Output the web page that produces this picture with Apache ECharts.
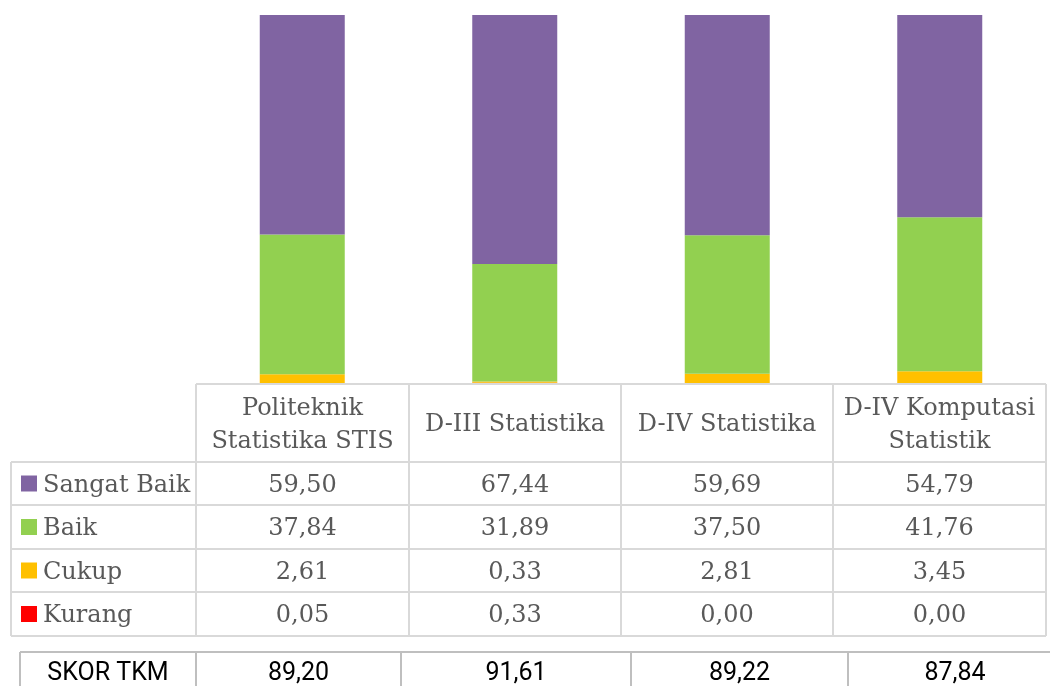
<!DOCTYPE html>
<html>
<head>
<meta charset="utf-8">
<script src="https://cdn.jsdelivr.net/npm/echarts@6/dist/echarts.min.js"></script>
<style>
  html, body { margin: 0; padding: 0; background: #fff; }
  #chart { width: 1050px; height: 686px; }
</style>
</head>
<body>
<div id="chart"></div>
<script>
var categories = ['Politeknik\nStatistika STIS', 'D-III Statistika', 'D-IV Statistika', 'D-IV Komputasi\nStatistik'];
var seriesNames = ['Sangat Baik', 'Baik', 'Cukup', 'Kurang'];
var sangatBaik = [59.50, 67.44, 59.69, 54.79];
var baik = [37.84, 31.89, 37.50, 41.76];
var cukup = [2.61, 0.33, 2.81, 3.45];
var kurang = [0.05, 0.33, 0.00, 0.00];
var skorTkm = [89.20, 91.61, 89.22, 87.84];
var colors = ['#8064a2', '#92d050', '#ffc000', '#ff0000'];

var rows = [sangatBaik, baik, cukup, kurang];
var chart = echarts.init(document.getElementById('chart'));

function fmt(v) {
  return v.toFixed(2).replace('.', ',');
}

// table layout
var colX = [11, 196, 409, 621, 833, 1046];
var rowY = [384, 462, 505, 549, 592, 636];
var skorX = [20, 196, 401, 631, 848, 1062];
var skorTop = 652;
var gridColor = '#d9d9d9';
var textColor = '#595959';
var serifFont = '24px "DejaVu Serif"';
var sansFont = '25px Roboto';

var graphics = [];

function line(x1, y1, x2, y2, color) {
  graphics.push({
    type: 'line',
    z: 10,
    shape: { x1: x1, y1: y1, x2: x2, y2: y2 },
    style: { stroke: color, lineWidth: 2 },
    silent: true
  });
}

function text(x, y, str, opts) {
  graphics.push({
    type: 'text',
    z: 10,
    x: x,
    y: y,
    style: Object.assign({
      text: str,
      fill: textColor,
      font: serifFont,
      align: 'center',
      verticalAlign: 'middle',
      lineHeight: 33
    }, opts || {}),
    silent: true
  });
}

// grid lines of the data table
line(colX[1], rowY[0], colX[5], rowY[0], gridColor);
for (var r = 1; r < rowY.length; r++) {
  line(colX[0], rowY[r], colX[5], rowY[r], gridColor);
}
line(colX[0], rowY[1], colX[0], rowY[5], gridColor);
for (var c = 1; c < colX.length; c++) {
  line(colX[c], rowY[0], colX[c], rowY[5], gridColor);
}

// header
categories.forEach(function (cat, i) {
  text((colX[i + 1] + colX[i + 2]) / 2, (rowY[0] + rowY[1]) / 2 + 2, cat);
});

// rows
seriesNames.forEach(function (name, r) {
  var cy = (rowY[r + 1] + rowY[r + 2]) / 2;
  graphics.push({
    type: 'rect',
    z: 10,
    shape: { x: 21, y: cy - 8, width: 16, height: 16 },
    style: { fill: colors[r] },
    silent: true
  });
  text(43, cy + 2, name, { align: 'left' });
  rows[r].forEach(function (v, i) {
    text((colX[i + 1] + colX[i + 2]) / 2, cy + 2, fmt(v));
  });
});

// skor tkm row
line(skorX[0], skorTop, 1050, skorTop, '#bfbfbf');
skorX.forEach(function (x) {
  line(x, skorTop, x, 686, '#bfbfbf');
});
text((skorX[0] + skorX[1]) / 2, 674, 'SKOR TKM', { fill: '#000', font: sansFont });
skorTkm.forEach(function (v, i) {
  text((skorX[i + 1] + skorX[i + 2]) / 2, 674, fmt(v), { fill: '#000', font: sansFont });
});

var order = [3, 2, 1, 0];
var series = order.map(function (r) {
  return {
    name: seriesNames[r],
    type: 'bar',
    stack: 'total',
    barWidth: 85,
    itemStyle: { color: colors[r] },
    data: rows[r]
  };
});

var option = {
  animation: false,
  grid: { left: 196, right: 4, top: 15, bottom: 302 },
  xAxis: {
    type: 'category',
    data: categories,
    axisLine: { show: false },
    axisTick: { show: false },
    axisLabel: { show: false }
  },
  yAxis: {
    type: 'value',
    min: 0,
    max: 100,
    show: false,
    splitLine: { show: false }
  },
  series: series,
  graphic: graphics
};

chart.setOption(option);
</script>
</body>
</html>
